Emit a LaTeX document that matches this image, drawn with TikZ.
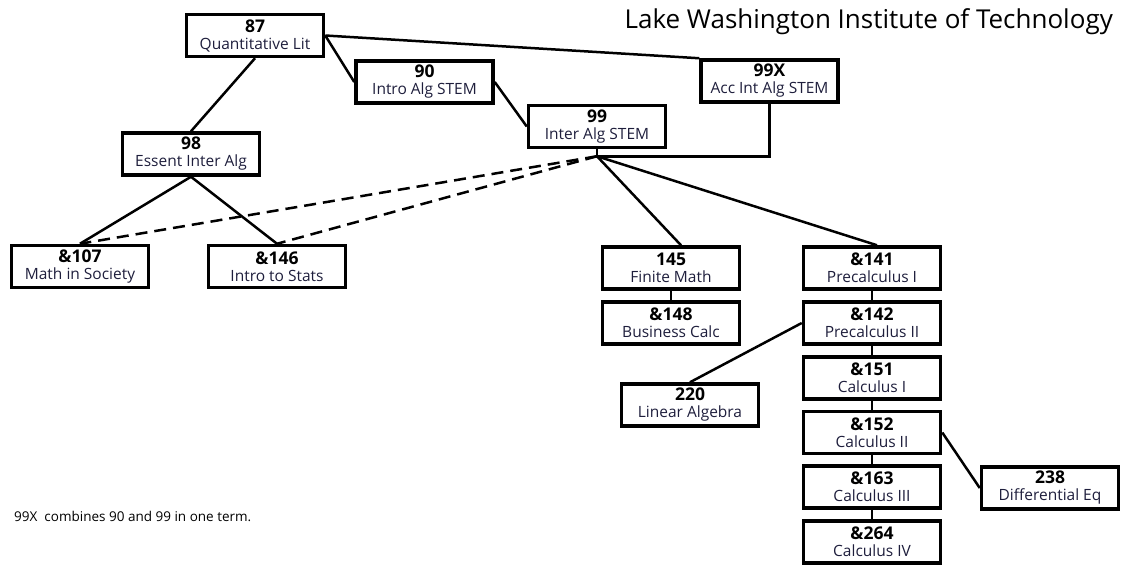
\documentclass[tikz,border=0pt]{standalone}
\usepackage{fontspec}
\setmainfont{Open Sans}
\usetikzlibrary{calc, positioning}
\definecolor{labelInk}{RGB}{30,30,60}

\tikzset{
    course/.style={draw, line width=3.5pt, minimum width=137pt, minimum height=42pt,
        align=center, inner sep=1pt, text=labelInk, font=\fontsize{15.5}{17}\selectfont},
    link/.style={line width=2.5pt},
    dlink/.style={line width=2.5pt, dash pattern=on 12pt off 7pt},
}
\newcommand{\crsnum}[1]{{\color{black}\fontsize{17.5}{17}\selectfont\bfseries #1}}

\begin{document}
\begin{tikzpicture}[x=1pt, y=-1pt]
        \useasboundingbox (0,0) rectangle (1122,565);
        \foreach \n/\x/\y/\num/\name in
        {cQuantLit/255/35.5/87/Quantitative Lit,
            cIntroAlg/424.5/82/90/Intro Alg STEM,
            cAccInt/769.5/81/99X/Acc Int Alg STEM,
            cInterAlg/597/126.5/99/Inter Alg STEM,
            cEssent/191/154/98/Essent Inter Alg,
            cMathSoc/80/266.5/\&107/Math in Society,
            cStats/277/266.5/\&146/Intro to Stats,
            cFinite/671/268/145/Finite Math,
            cBusCalc/671/323/\&148/Business Calc,
            cPrecalcI/872/268/\&141/Precalculus I,
            cPrecalcII/872/323/\&142/Precalculus II,
            cCalcI/872/378/\&151/Calculus I,
            cCalcII/872/432.5/\&152/Calculus II,
            cCalcIII/872/487/\&163/Calculus III,
            cCalcIV/872/542/\&264/Calculus IV,
            cLinAlg/690/405/220/Linear Algebra,
            cDiffEq/1050/488/238/Differential Eq
        }
        {
            \node[course] (\n) at (\x,\y) {\crsnum{\num}\\ \name};
        };
        \coordinate[below=7pt of cInterAlg] (cHub);

        \draw[link] (cQuantLit.south) -- (cEssent.north);
        \draw[link] (cQuantLit.east) -- (cIntroAlg.west);
        \draw[link] (cQuantLit.east) -- (cAccInt.north west);
        \draw[link] (cIntroAlg.east) -- (cInterAlg.west);
        \draw[link] (cInterAlg.south) -- (cHub);
        \draw[link] (cAccInt.south) |- (cHub);
        \draw[dlink] (cHub) -- (cMathSoc.north);
        \draw[dlink] (cHub) -- (cStats.north);
        \draw[link] (cEssent.south) -- (cMathSoc.north);
        \draw[link] (cEssent.south) -- (cStats.north);
        \draw[link] (cHub) -- ([xshift=10pt]cFinite.north);
        \draw[link] (cHub) -- ([xshift=5pt]cPrecalcI.north);
        \draw[link] (cFinite) -- (cBusCalc);
        \foreach \a/\b in {cPrecalcI/cPrecalcII, cPrecalcII/cCalcI, cCalcI/cCalcII,
            cCalcII/cCalcIII, cCalcIII/cCalcIV}
        {
            \draw[link] (\a) -- (\b);
        };
        \draw[link] (cPrecalcII.west) -- (cLinAlg.north);
        \draw[link] (cCalcII.east) -- (cDiffEq.west);

        \node[anchor=base east, inner sep=0pt, font=\fontsize{26}{30}\selectfont] (nTitle) at (1113,28)
            {Lake Washington Institute of Technology};
        \node[anchor=base west, inner sep=0pt, font=\fontsize{13.5}{15}\selectfont] (nNote) at (14,521)
            {99X\ \ combines 90 and 99 in one term.};
\end{tikzpicture}
\end{document}
